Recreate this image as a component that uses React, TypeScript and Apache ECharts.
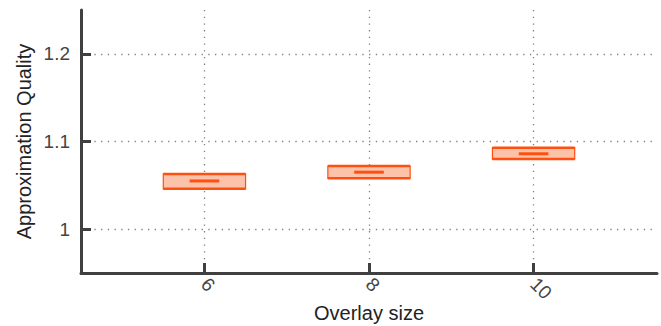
import React, { useEffect, useRef } from "react";
import * as echarts from "echarts";

const overlaySizes = [6, 8, 10];
const q1Values = [1.046, 1.058, 1.08];
const medianValues = [1.055, 1.065, 1.086];
const q3Values = [1.063, 1.072, 1.093];
const xTicks = [6, 8, 10];
const yTicks = [1, 1.1, 1.2];

const AXIS_COLOR = "#404040";
const BOX_STROKE = "#ff5010";
const BOX_FILL = "#fdc2aa";

export default function App() {
  const ref = useRef<HTMLDivElement>(null);
  useEffect(() => {
    if (!ref.current) return;
    const chart = echarts.init(ref.current, undefined, { renderer: "svg" });
    const data = overlaySizes.map((x, i) => [x, q1Values[i], medianValues[i], q3Values[i]]);
    const gridLine = { show: true, lineStyle: { color: "#808080", width: 1.3, type: [1.3, 5.4] as any } };
    chart.setOption({
      animation: false,
      grid: { left: 81, right: 4, top: 10, bottom: 53, containLabel: false, outerBoundsMode: "none" },
      xAxis: {
        type: "value",
        min: 4.5,
        max: 11.5,
        name: "Overlay size",
        nameLocation: "middle",
        nameGap: 30,
        nameMoveOverlap: false,
        nameTextStyle: { fontSize: 20, color: "#222", fontFamily: "Liberation Sans" },
        axisLine: { show: true, lineStyle: { color: AXIS_COLOR, width: 3 } },
        axisTick: { show: true, inside: true, length: 10, lineStyle: { color: AXIS_COLOR, width: 3 }, customValues: xTicks },
        axisLabel: { rotate: -45, margin: 8, fontSize: 19, color: "#444", fontFamily: "Liberation Sans", customValues: xTicks },
        splitLine: gridLine,
      },
      yAxis: {
        type: "value",
        min: 0.95,
        max: 1.25,
        name: "Approximation Quality",
        nameLocation: "middle",
        nameGap: 47,
        nameMoveOverlap: false,
        nameTextStyle: { fontSize: 20, color: "#222", fontFamily: "Liberation Sans" },
        axisLine: { show: true, lineStyle: { color: AXIS_COLOR, width: 3 } },
        axisTick: { show: true, inside: true, length: 10, lineStyle: { color: AXIS_COLOR, width: 3 }, customValues: yTicks },
        axisLabel: { margin: 11, fontSize: 19, color: "#444", fontFamily: "Liberation Sans", customValues: yTicks, formatter: (v: number) => String(Math.round(v * 10) / 10) },
        splitLine: gridLine,
      },
      series: [
        {
          type: "custom",
          data,
          encode: { x: 0, y: [1, 2, 3] },
          renderItem: (params: any, api: any) => {
            const x = api.value(0);
            const pLow = api.coord([x, api.value(1)]);
            const pMed = api.coord([x, api.value(2)]);
            const pHigh = api.coord([x, api.value(3)]);
            const w = api.size([1, 0])[0];
            const mw = api.size([0.36, 0])[0];
            const left = pLow[0] - w / 2;
            const right = pLow[0] + w / 2;
            return {
              type: "group",
              children: [
                {
                  type: "rect",
                  shape: { x: left, y: pHigh[1], width: w, height: pLow[1] - pHigh[1] },
                  style: { fill: BOX_FILL, stroke: BOX_STROKE, lineWidth: 1.2 },
                },
                {
                  type: "line",
                  shape: { x1: left, y1: pHigh[1], x2: right, y2: pHigh[1] },
                  style: { stroke: BOX_STROKE, lineWidth: 2.5 },
                },
                {
                  type: "line",
                  shape: { x1: left, y1: pLow[1], x2: right, y2: pLow[1] },
                  style: { stroke: BOX_STROKE, lineWidth: 2.5 },
                },
                {
                  type: "line",
                  shape: { x1: pMed[0] - mw / 2, y1: pMed[1], x2: pMed[0] + mw / 2, y2: pMed[1] },
                  style: { stroke: BOX_STROKE, lineWidth: 3 },
                },
              ],
            };
          },
        },
      ],
    });
    return () => chart.dispose();
  }, []);
  return <div ref={ref} style={{ width: 661, height: 326, position: "absolute", left: 0, top: 0 }} />;
}
